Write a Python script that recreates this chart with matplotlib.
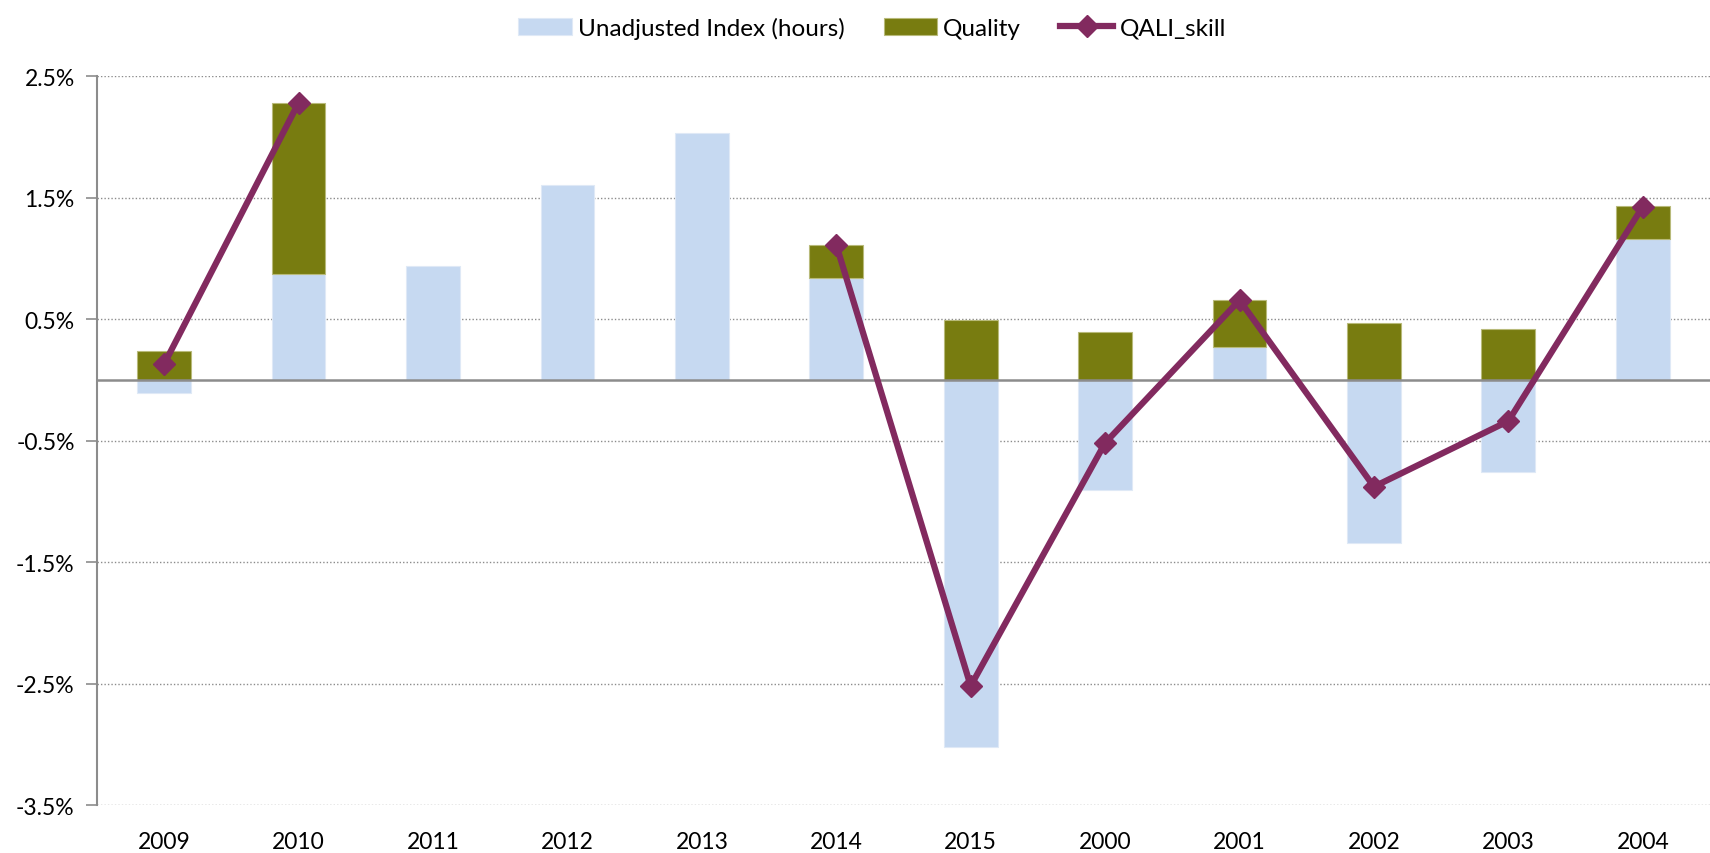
import matplotlib.pyplot as plt
from matplotlib.ticker import FuncFormatter
import numpy as np

plt.rcParams['font.family'] = ['Lato', 'DejaVu Sans']

years = ['2009', '2010', '2011', '2012', '2013', '2014', '2015',
         '2000', '2001', '2002', '2003', '2004']
unadjusted = [-0.11, 0.87, 0.94, 1.60, 2.03, 0.84, -3.02, -0.91, 0.27, -1.34, -0.76, 1.16]
quality = [0.24, 1.41, 0.0, 0.0, 0.0, 0.27, 0.49, 0.395, 0.385, 0.47, 0.42, 0.27]
qali_skill = [0.13, 2.28, np.nan, np.nan, np.nan, 1.11, -2.52, -0.52, 0.655, -0.88, -0.34, 1.425]

blue = '#C6D9F1'
olive = '#787C10'
purple = '#822A5F'

fig = plt.figure(figsize=(17.1, 8.54), dpi=100)
ax = fig.add_axes([0.0567, 0.0562, 0.9433, 0.8536])

x = np.arange(len(years))
unadj = np.array(unadjusted)
qual = np.array(quality)

# stacked like Excel: positives stack on positives, negatives on negatives
bottom_q = np.where(unadj > 0, unadj, 0)
b1 = ax.bar(x, unadj, width=0.4, color=blue, edgecolor='#dfe9f6', linewidth=0.8,
            label='Unadjusted Index (hours)', zorder=2)
has_q = qual != 0
b2 = ax.bar(x[has_q], qual[has_q], width=0.4, bottom=bottom_q[has_q], color=olive,
            edgecolor='#b8ba7a', linewidth=0.8, label='Quality', zorder=2)

l1, = ax.plot(x, qali_skill, color=purple, lw=4.5, marker='D', markersize=11,
              label='QALI_skill', zorder=4)

ax.set_xlim(-0.5, 11.5)
ax.set_ylim(-3.5, 2.5)
ticks = [-3.5, -2.5, -1.5, -0.5, 0.5, 1.5, 2.5]
ax.set_yticks(ticks)
ax.yaxis.set_major_formatter(FuncFormatter(lambda v, p: '%.1f%%' % v))
for t in ticks:
    ax.axhline(t, color='#8c8c8c', lw=1.0, ls=(0, (1, 1.5)), zorder=1)
ax.axhline(0, color='#8c8c8c', lw=1.8, zorder=3)

ax.set_xticks(x)
ax.set_xticklabels(years)
for s in ['top', 'right', 'bottom']:
    ax.spines[s].set_visible(False)
ax.spines['left'].set_color('#8c8c8c')
ax.spines['left'].set_linewidth(1.5)
ax.tick_params(axis='y', length=8, width=1.2, color='#8c8c8c', labelsize=16.5, pad=8)
ax.tick_params(axis='x', length=0, labelsize=16.5, pad=19)

fig.legend(handles=[b1, b2, l1], loc='upper center', bbox_to_anchor=(0.51, 1.005),
           ncol=3, frameon=False, fontsize=17.5, handlelength=2.2, handleheight=0.7,
           columnspacing=1.6, handletextpad=0.25)

fig.savefig('out.png', dpi=100)
